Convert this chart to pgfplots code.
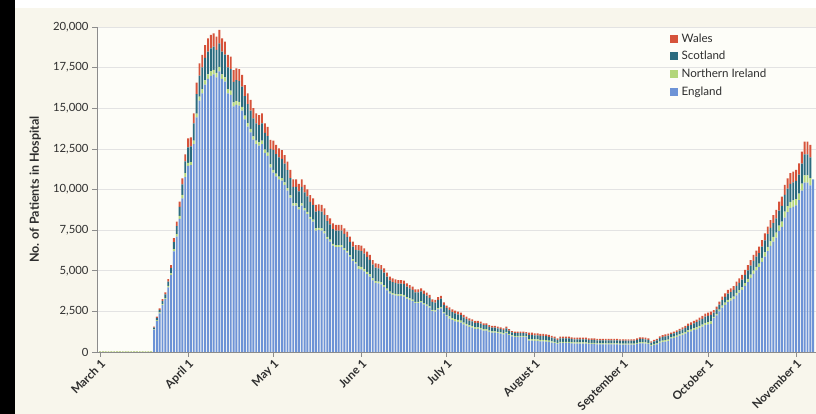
\documentclass[border=0pt]{standalone}
\usepackage{fontspec}
\setmainfont{Lato}
\usepackage{pgfplots}
\usepackage{pgfplotstable}
\pgfplotsset{compat=1.18}
\definecolor{engC}{HTML}{6D93D6}
\definecolor{niC}{HTML}{B2D67A}
\definecolor{scoC}{HTML}{2B6B7F}
\definecolor{walC}{HTML}{D6533B}
\definecolor{outerbg}{HTML}{F8F6EC}
\definecolor{plotbg}{HTML}{FDFDF8}
\definecolor{axgray}{HTML}{8C8C8C}
\definecolor{txt}{HTML}{2E2E2E}
\pgfplotsset{sqleg/.style={legend image code/.code={\fill[##1] (0pt,-4pt) rectangle (8pt,4pt);}}}

\pgfplotstableread{
d E N S W
19 1380 31 94 55
20 1921 43 130 76
21 2381 54 161 94
22 2885 65 196 114
23 3249 73 220 128
24 3974 90 269 157
25 4735 107 321 187
26 6195 140 420 245
27 7098 160 481 281
28 8186 185 555 324
29 9461 214 641 374
30 10761 243 730 426
31 11454 184 960 552
32 11506 185 964 555
33 12795 206 1072 617
34 14432 232 1210 696
35 15469 249 1296 746
36 15922 256 1334 768
37 16454 264 1379 793
38 16810 270 1409 811
39 16994 273 1424 819
40 17079 275 1432 824
41 16897 272 1416 815
42 17264 277 1447 832
43 16810 270 1409 811
44 16637 267 1394 802
45 15922 256 1334 768
46 15827 254 1326 763
47 15111 243 1267 729
48 15208 244 1275 733
49 15155 244 1270 731
50 14850 239 1245 716
51 14311 230 1199 690
52 13866 223 1162 669
53 13510 217 1132 651
54 13065 210 1095 630
55 12795 206 1072 617
56 12700 204 1064 612
57 12795 206 1072 617
58 12255 197 1027 591
59 12072 194 1012 582
60 11366 183 953 548
61 11033 169 1236 572
62 10803 166 1210 561
63 10626 163 1190 551
64 10540 162 1181 547
65 10278 158 1151 533
66 9931 152 1112 515
67 9497 146 1064 493
68 9014 138 1010 468
69 9014 138 1010 468
70 8769 134 982 455
71 9014 138 1010 468
72 8717 134 977 452
73 8489 130 951 440
74 8191 126 918 425
75 8022 123 899 416
76 7475 127 1041 407
77 7509 127 1045 409
78 7475 127 1041 407
79 7301 124 1017 398
80 6964 118 969 379
81 6799 115 946 370
82 6542 111 911 356
83 6460 109 899 352
84 6460 109 899 352
85 6460 109 899 352
86 6286 107 875 342
87 6112 104 851 333
88 5864 99 817 320
89 5608 95 781 306
90 5435 92 757 296
91 5119 145 987 329
92 5088 144 981 327
93 4964 140 957 319
94 4799 136 926 309
95 4644 131 896 299
96 4403 125 849 283
97 4248 120 819 273
98 4217 119 813 271
99 4161 118 803 268
100 4006 113 773 258
101 3797 107 732 244
102 3610 102 696 232
103 3523 100 680 227
104 3477 98 671 224
105 3446 97 665 222
106 3446 97 665 222
107 3414 97 659 220
108 3290 93 635 212
109 3205 91 618 206
110 3128 88 603 201
111 3003 85 579 193
112 3003 85 579 193
113 3050 86 588 196
114 2932 83 566 189
115 2839 80 548 183
116 2730 77 527 176
117 2521 71 486 162
118 2490 70 480 160
119 2621 74 506 169
120 2683 76 518 173
121 2372 67 458 153
122 2216 63 428 143
123 2048 138 385 179
124 1959 132 368 171
125 1892 127 356 165
126 1848 124 347 161
127 1803 121 339 157
128 1699 114 319 148
129 1616 109 304 141
130 1541 104 290 135
131 1497 101 281 131
132 1423 96 267 124
133 1423 96 267 124
134 1392 94 262 122
135 1312 88 246 114
136 1312 88 246 114
137 1237 83 232 108
138 1192 80 224 104
139 1192 80 224 104
140 1163 78 218 101
141 1132 76 213 99
142 1088 73 204 95
143 1163 78 218 101
144 1043 70 196 91
145 960 65 181 84
146 931 63 175 81
147 931 63 175 81
148 931 63 175 81
149 931 63 175 81
150 916 62 172 80
151 702 95 262 131
152 702 95 262 131
153 678 92 253 127
154 678 92 253 127
155 655 89 244 122
156 655 89 244 122
157 643 87 240 120
158 619 84 231 116
159 581 79 217 108
160 555 75 207 103
161 496 67 185 92
162 555 75 207 103
163 555 75 207 103
164 555 75 207 103
165 555 75 207 103
166 531 72 198 99
167 519 70 194 97
168 519 70 194 97
169 519 70 194 97
170 519 70 194 97
171 519 70 194 97
172 496 67 185 92
173 496 67 185 92
174 496 67 185 92
175 472 64 176 88
176 472 64 176 88
177 472 64 176 88
178 472 64 176 88
179 472 64 176 88
180 472 64 176 88
181 472 64 176 88
182 472 64 176 88
183 460 62 172 86
184 460 62 172 86
185 460 62 172 86
186 460 62 172 86
187 460 62 172 86
188 460 62 172 86
189 496 67 185 92
190 531 72 198 99
191 531 72 198 99
192 519 70 194 97
193 496 67 185 92
194 383 52 143 72
195 437 59 163 81
196 472 64 176 88
197 566 77 211 106
198 614 83 229 114
199 637 86 238 119
200 667 90 249 124
201 834 71 190 95
202 875 75 200 100
203 931 80 213 106
204 1001 86 229 114
205 1056 91 242 121
206 1126 97 258 129
207 1219 104 278 139
208 1274 109 291 146
209 1344 115 307 154
210 1394 119 318 159
211 1484 127 339 170
212 1554 133 355 178
213 1651 142 378 189
214 1694 145 387 194
215 1736 149 397 198
216 2077 90 258 155
217 2246 98 279 167
218 2495 109 310 186
219 2737 119 340 204
220 2906 126 361 217
221 3075 134 382 229
222 3156 137 392 235
223 3268 142 406 244
224 3485 152 433 260
225 3646 159 453 272
226 3816 166 474 284
227 4065 177 505 303
228 4307 187 535 321
229 4556 198 566 340
230 4806 209 597 358
231 5024 218 624 374
232 5216 227 648 389
233 5547 241 689 413
234 5876 256 730 438
235 6206 270 771 463
236 6537 284 812 487
237 6786 295 843 506
238 7036 306 874 524
239 7446 324 925 555
240 7695 335 956 574
241 8275 360 1028 617
242 8606 374 1069 641
243 8855 385 1100 660
244 8935 389 1110 666
245 9016 392 1120 672
246 9346 406 1161 697
247 9925 432 1233 740
248 10417 453 1294 776
249 10417 453 1294 776
250 10256 446 1274 764
251 10630 0 0 0
}\hospdata

\pgfplotstableread{
d z
0 40
1 40
2 40
3 40
4 40
5 40
6 40
7 40
8 40
9 40
10 40
11 40
12 40
13 40
14 40
15 40
16 40
17 40
18 40
}\zerodata

\begin{document}
\begin{tikzpicture}
\useasboundingbox (0pt,0pt) rectangle (816pt,414pt);
\fill[black] (0pt,0pt) rectangle (15pt,414pt);
\fill[white] (15pt,406pt) rectangle (816pt,414pt);
\fill[outerbg] (15pt,0pt) rectangle (816pt,406pt);
\begin{axis}[
  at={(97pt,62pt)}, anchor=south west,
  scale only axis, width=719pt, height=325pt,
  xmin=-1.06, xmax=252, ymin=0, ymax=20000,
  enlargelimits=false,
  axis background/.style={fill=plotbg},
  ybar stacked, bar width=1.9pt,
  axis x line*=bottom, axis y line*=left,
  axis line style={axgray, line width=0.7pt},
  tick style={axgray, line width=0.7pt},
  tick align=outside, major tick length=5pt,
  ytick={0,2500,5000,7500,10000,12500,15000,17500,20000},
  yticklabel style={font=\fontsize{11.3}{13}\selectfont, color=txt},
  /pgf/number format/assume math mode=true,
  /pgf/number format/1000 sep={,},
  scaled y ticks=false,
  ymajorgrids, grid style={color=black!11, line width=0.6pt},
  xtick={0,31,61,92,122,153,184,214,245},
  xticklabels={March 1,April 1,May 1,June 1,July 1,August 1,September 1,October 1,November 1},
  xticklabel style={rotate=45, anchor=north east, font=\bfseries\fontsize{11.6}{13}\selectfont, color=txt, inner sep=1pt},
  ylabel={No. of Patients in Hospital},
  ylabel style={at={(axis description cs:-0.086,0.5)}, anchor=center, font=\bfseries\fontsize{12.5}{14}\selectfont, color=txt},
  legend style={at={(0.792,0.992)}, anchor=north west, draw=none, fill=none,
    font=\fontsize{11.6}{13}\selectfont, text=txt, row sep=3.6pt,
    nodes={inner sep=2pt},
    /tikz/every odd column/.append style={column sep=2pt}},
  legend cell align=left,
  reverse legend,
]
\addplot[sqleg, fill=engC, draw=none] table[x=d, y=E] {\hospdata};
\addlegendentry{England}
\addplot[sqleg, fill=niC, draw=none] table[x=d, y=N] {\hospdata};
\addlegendentry{Northern Ireland}
\addplot[sqleg, fill=scoC, draw=none] table[x=d, y=S] {\hospdata};
\addlegendentry{Scotland}
\addplot[sqleg, fill=walC, draw=none] table[x=d, y=W] {\hospdata};
\addlegendentry{Wales}
\end{axis}
\begin{axis}[
  at={(97pt,62pt)}, anchor=south west,
  scale only axis, width=719pt, height=325pt,
  xmin=-1.06, xmax=252, ymin=0, ymax=20000,
  enlargelimits=false, hide axis,
  ybar, bar width=1.9pt,
]
\addplot[fill=niC!80!olive, draw=none] table[x=d, y=z] {\zerodata};
\end{axis}
\end{tikzpicture}
\end{document}
